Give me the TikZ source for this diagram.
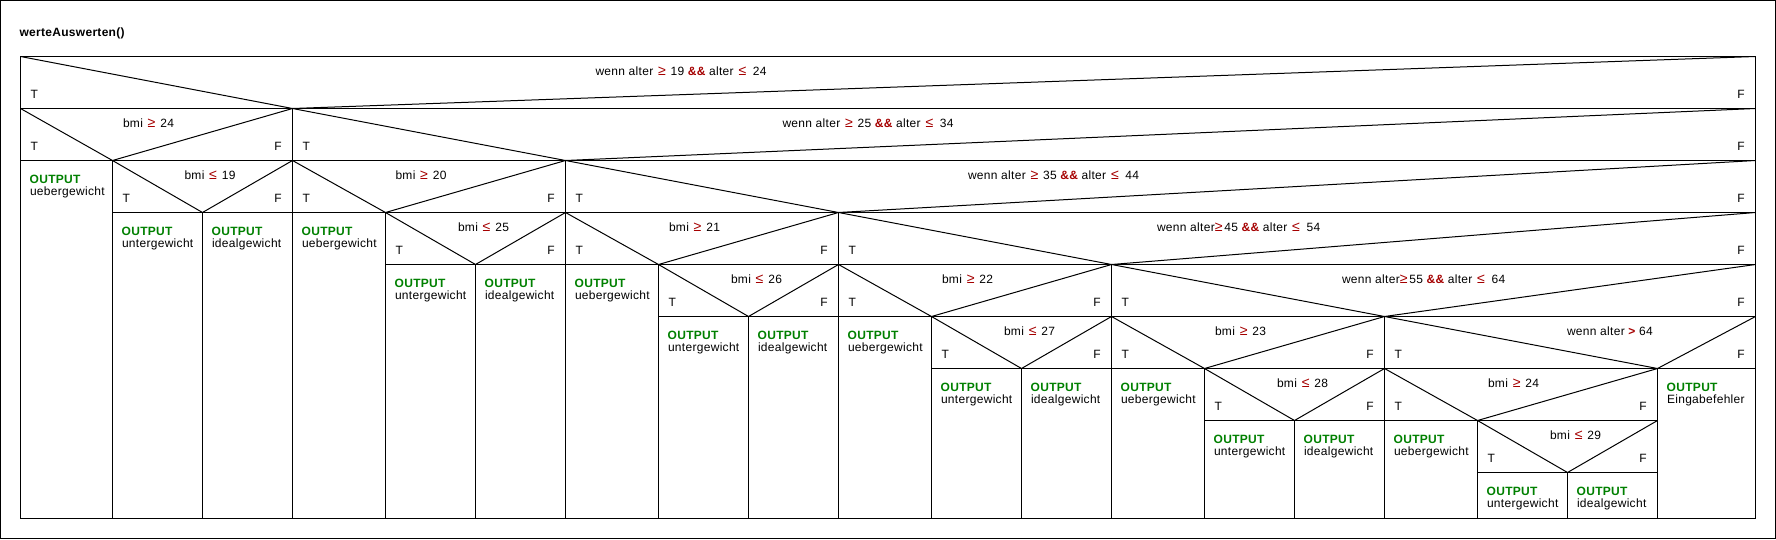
\documentclass[tikz,border=0pt]{standalone}
\usepackage{fontspec}
\setmainfont{Liberation Sans}[LetterSpace=2.5]
\definecolor{opred}{RGB}{165,0,0}
\definecolor{outgreen}{RGB}{0,128,0}
\newcommand\symsz[1]{{\fontsize{10.6pt}{10pt}\selectfont #1}}
\newcommand\opge{\textcolor{opred}{\symsz{≥}}}
\newcommand\ople{\textcolor{opred}{\symsz{≤}}}
\newcommand\opand{\textcolor{opred}{\bfseries\&\&}}
\newcommand\opgt{\textcolor{opred}{\bfseries >}}
\newcommand\gsp{\hspace{0.4em}}
\newcommand\wsp{\hspace{0.55em}}
\tikzset{
  ln/.style={line width=0.75pt, line join=miter},
  txt/.style={anchor=base west, inner sep=0pt, outer sep=0pt, font=\fontsize{9pt}{10pt}\selectfont},
  txtr/.style={txt, anchor=base east},
  outkw/.style={txt, text=outgreen, font=\fontsize{9pt}{10pt}\selectfont\bfseries},
}
% IF block: #1 L, #2 apex, #3 R, #4 top, #5 text x, #6 text, #7 name
\newcommand\nsif[7]{%
  \draw[ln] ({#1},{#4}) rectangle ({#3},{#4+52});
  \draw[ln] ({#1},{#4}) -- ({#2},{#4+52}) -- ({#3},{#4});
  \node[txt] (#7c) at ({#5},{#4+19}) {#6};
  \node[txt] (#7t) at ({#1+10},{#4+42.2}) {T};
  \node[txtr] (#7f) at ({#3-10.8},{#4+42.2}) {F};
}
% OUTPUT block: #1 L, #2 R, #3 top, #4 text, #5 name
\newcommand\nsout[5]{%
  \draw[ln] ({#1},{#3}) rectangle ({#2},518.5);
  \node[outkw] (#5k) at ({#1+9.2},{#3+23.2}) {OUTPUT};
  \node[txt] (#5v) at ({#1+9.5},{#3+35.2}) {#4};
}
\begin{document}
\begin{tikzpicture}[x=0.75pt,y=-0.75pt]
\useasboundingbox (0,0) rectangle (1776,539);
\draw[ln] (0.6,0.6) rectangle (1775.4,538.4);
\node[txt, font=\fontsize{9pt}{10pt}\selectfont\bfseries] (title) at (19.5,36.5) {werteAuswerten()};
% row 0
\nsif{20.5}{292.5}{1755.5}{56.5}{595.5}{wenn alter\gsp\opge\gsp 19 \opand\ alter\gsp\ople\wsp 24}{a}
% row 1
\nsif{20.5}{112.5}{292.5}{108.5}{123}{bmi\gsp\opge\gsp 24}{b}
\nsif{292.5}{565.5}{1755.5}{108.5}{782.5}{wenn alter\gsp\opge\gsp 25 \opand\ alter\gsp\ople\wsp 34}{c}
% row 2
\nsout{20.5}{112.5}{160.5}{uebergewicht}{o1}
\nsif{112.5}{202.5}{292.5}{160.5}{184.5}{bmi\gsp\ople\gsp 19}{d}
\nsif{292.5}{385.5}{565.5}{160.5}{395.5}{bmi\gsp\opge\gsp 20}{e}
\nsif{565.5}{838.5}{1755.5}{160.5}{968}{wenn alter\gsp\opge\gsp 35 \opand\ alter\gsp\ople\wsp 44}{f}
% row 3
\nsout{112.5}{202.5}{212.5}{untergewicht}{o2}
\nsout{202.5}{292.5}{212.5}{idealgewicht}{o3}
\nsout{292.5}{385.5}{212.5}{uebergewicht}{o4}
\nsif{385.5}{475.5}{565.5}{212.5}{458}{bmi\gsp\ople\gsp 25}{g}
\nsif{565.5}{658.5}{838.5}{212.5}{669}{bmi\gsp\opge\gsp 21}{h}
\nsif{838.5}{1111.5}{1755.5}{212.5}{1157}{wenn alter\opge\hspace{0.15em}45 \opand\ alter\gsp\ople\wsp 54}{i}
% row 4
\nsout{385.5}{475.5}{264.5}{untergewicht}{o5}
\nsout{475.5}{565.5}{264.5}{idealgewicht}{o6}
\nsout{565.5}{658.5}{264.5}{uebergewicht}{o7}
\nsif{658.5}{748.5}{838.5}{264.5}{731}{bmi\gsp\ople\gsp 26}{j}
\nsif{838.5}{931.5}{1111.5}{264.5}{942}{bmi\gsp\opge\gsp 22}{k}
\nsif{1111.5}{1384.5}{1755.5}{264.5}{1342}{wenn alter\opge\hspace{0.15em}55 \opand\ alter\gsp\ople\wsp 64}{l}
% row 5
\nsout{658.5}{748.5}{316.5}{untergewicht}{o8}
\nsout{748.5}{838.5}{316.5}{idealgewicht}{o9}
\nsout{838.5}{931.5}{316.5}{uebergewicht}{o10}
\nsif{931.5}{1021.5}{1111.5}{316.5}{1004}{bmi\gsp\ople\gsp 27}{m}
\nsif{1111.5}{1204.5}{1384.5}{316.5}{1215}{bmi\gsp\opge\gsp 23}{n}
\nsif{1384.5}{1657.5}{1755.5}{316.5}{1567}{wenn alter \opgt\ 64}{p}
% row 6
\nsout{931.5}{1021.5}{368.5}{untergewicht}{o11}
\nsout{1021.5}{1111.5}{368.5}{idealgewicht}{o12}
\nsout{1111.5}{1204.5}{368.5}{uebergewicht}{o13}
\nsif{1204.5}{1294.5}{1384.5}{368.5}{1277}{bmi\gsp\ople\gsp 28}{q}
\nsif{1384.5}{1477.5}{1657.5}{368.5}{1488}{bmi\gsp\opge\gsp 24}{r}
\nsout{1657.5}{1755.5}{368.5}{Eingabefehler}{o14}
% row 7
\nsout{1204.5}{1294.5}{420.5}{untergewicht}{o15}
\nsout{1294.5}{1384.5}{420.5}{idealgewicht}{o16}
\nsout{1384.5}{1477.5}{420.5}{uebergewicht}{o17}
\nsif{1477.5}{1567.5}{1657.5}{420.5}{1550}{bmi\gsp\ople\gsp 29}{s}
% row 8
\nsout{1477.5}{1567.5}{472.5}{untergewicht}{o18}
\nsout{1567.5}{1657.5}{472.5}{idealgewicht}{o19}
\end{tikzpicture}
\end{document}
